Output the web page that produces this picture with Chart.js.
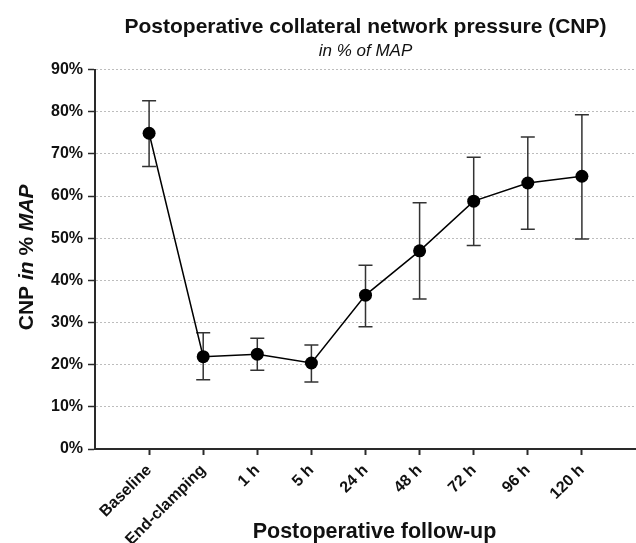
<!DOCTYPE html>
<html>
<head>
<meta charset="utf-8">
<script src="https://cdn.jsdelivr.net/npm/chart.js@4"></script>
<style>
  html, body { margin: 0; padding: 0; background: #fff; }
  #wrap { width: 636px; height: 543px; }
</style>
</head>
<body>
<div id="wrap"><canvas id="cnpChart" width="636" height="543"></canvas></div>
<script>
// 時点ラベル
const timepoints = ['Baseline', 'End-clamping', '1 h', '5 h', '24 h', '48 h', '72 h', '96 h', '120 h'];
// 平均値 (% of MAP)
const meanCnp = [74.9, 21.9, 22.5, 20.4, 36.5, 47.0, 58.8, 63.1, 64.7];
// エラーバー上端 / 下端
const upperCnp = [82.6, 27.6, 26.3, 24.7, 43.6, 58.4, 69.2, 74.0, 79.3];
const lowerCnp = [67.0, 16.4, 18.7, 15.9, 29.0, 35.6, 48.3, 52.1, 49.8];
// y軸目盛り
const yTicks = [0, 10, 20, 30, 40, 50, 60, 70, 80, 90];

const FONT = '"Liberation Sans", Arial, Helvetica, sans-serif';
const INK = '#111';
const AXIS = '#2a2a2a';

// エラーバーを描画するプラグイン
const errorBarPlugin = {
    id: 'errorBars',
    beforeDatasetsDraw(chart, args, options) {
        const { ctx, scales: { x, y } } = chart;
        const cap = options.capWidth || 14;

        ctx.save();
        ctx.strokeStyle = options.color || '#333';
        ctx.lineWidth = options.lineWidth || 1.5;

        meanCnp.forEach((v, i) => {
            const xPos = x.getPixelForValue(i);
            const yTop = y.getPixelForValue(upperCnp[i]);
            const yBot = y.getPixelForValue(lowerCnp[i]);

            ctx.beginPath();
            ctx.moveTo(xPos, yTop);
            ctx.lineTo(xPos, yBot);
            ctx.moveTo(xPos - cap / 2, yTop);
            ctx.lineTo(xPos + cap / 2, yTop);
            ctx.moveTo(xPos - cap / 2, yBot);
            ctx.lineTo(xPos + cap / 2, yBot);
            ctx.stroke();
        });

        ctx.restore();
    }
};

// 軸タイトル (一部イタリック) を描画するプラグイン
function drawRich(ctx, parts, size) {
    const fonts = parts.map(p => `${p.italic ? 'italic ' : ''}bold ${size}px ${FONT}`);
    const widths = parts.map((p, i) => {
        ctx.font = fonts[i];
        return ctx.measureText(p.text).width;
    });
    const total = widths.reduce((a, b) => a + b, 0);
    let pos = -total / 2;
    parts.forEach((p, i) => {
        ctx.font = fonts[i];
        ctx.fillText(p.text, pos, 0);
        pos += widths[i];
    });
}

const axisTitlePlugin = {
    id: 'axisTitles',
    afterDraw(chart, args, options) {
        const { ctx, chartArea } = chart;

        ctx.save();
        ctx.fillStyle = INK;
        ctx.textAlign = 'left';
        ctx.textBaseline = 'alphabetic';

        // x軸タイトル
        ctx.save();
        ctx.translate((chartArea.left + chartArea.right) / 2 + options.xShift, options.xBaseline);
        drawRich(ctx, options.xParts, options.xSize);
        ctx.restore();

        // y軸タイトル
        ctx.save();
        ctx.translate(options.yBaseline, (chartArea.top + chartArea.bottom) / 2 + options.yShift);
        ctx.rotate(-Math.PI / 2);
        drawRich(ctx, options.yParts, options.ySize);
        ctx.restore();

        ctx.restore();
    }
};

const points = meanCnp.map((v, i) => ({ x: i, y: v }));

const ctx = document.getElementById('cnpChart').getContext('2d');

new Chart(ctx, {
    type: 'line',
    data: {
        datasets: [{
            label: 'CNP',
            data: points,
            borderColor: '#000',
            borderWidth: 1.5,
            backgroundColor: '#000',
            pointRadius: 6.5,
            pointHoverRadius: 6.5,
            pointBackgroundColor: '#000',
            pointBorderWidth: 0,
            tension: 0
        }]
    },
    plugins: [errorBarPlugin, axisTitlePlugin],
    options: {
        responsive: false,
        animation: false,
        layout: { padding: 0, autoPadding: false },
        plugins: {
            legend: { display: false },
            tooltip: { enabled: false },
            errorBars: { capWidth: 14, lineWidth: 1.5, color: '#333' },
            axisTitles: {
                xParts: [{ text: 'Postoperative follow-up' }],
                xSize: 21.5,
                xBaseline: 538,
                xShift: 9,
                yParts: [
                    { text: 'CNP ' },
                    { text: 'in', italic: true },
                    { text: ' % ' },
                    { text: 'MAP', italic: true }
                ],
                ySize: 21,
                yBaseline: 33,
                yShift: -2
            },
            title: {
                display: true,
                text: 'Postoperative collateral network pressure (CNP)',
                fullSize: false,
                color: INK,
                font: { family: FONT, size: 21, weight: 'bold' },
                padding: { top: 15, bottom: 0 }
            },
            subtitle: {
                display: true,
                text: 'in % of MAP',
                fullSize: false,
                color: INK,
                font: { family: FONT, size: 17, style: 'italic', weight: 'normal' },
                padding: { top: 1, bottom: 8 }
            }
        },
        scales: {
            x: {
                type: 'linear',
                min: -1,
                max: 9,
                afterBuildTicks(scale) {
                    scale.ticks = timepoints.map((t, i) => ({ value: i }));
                },
                afterFit(scale) {
                    scale.height = 94;
                },
                ticks: {
                    autoSkip: false,
                    minRotation: 45,
                    maxRotation: 45,
                    padding: 6,
                    color: INK,
                    font: { family: FONT, size: 16, weight: 'bold' },
                    callback: (value) => timepoints[value] ?? ''
                },
                grid: {
                    drawOnChartArea: false,
                    drawTicks: true,
                    tickLength: 6,
                    tickColor: AXIS,
                    tickWidth: 2
                },
                border: { display: true, color: AXIS, width: 2 },
                title: { display: false }
            },
            y: {
                min: 0,
                max: 90,
                afterBuildTicks(scale) {
                    scale.ticks = yTicks.map(v => ({ value: v }));
                },
                afterFit(scale) {
                    scale.width = 95;
                },
                ticks: {
                    padding: 5,
                    color: INK,
                    font: { family: FONT, size: 16, weight: 'bold' },
                    callback: (value) => value + '%'
                },
                grid: {
                    color: '#bdbdbd',
                    lineWidth: 1,
                    drawTicks: true,
                    tickLength: 7,
                    tickColor: AXIS,
                    tickWidth: 1.5
                },
                border: { display: true, color: AXIS, width: 2, dash: [2, 2] },
                title: { display: false }
            }
        }
    }
});
</script>
</body>
</html>
